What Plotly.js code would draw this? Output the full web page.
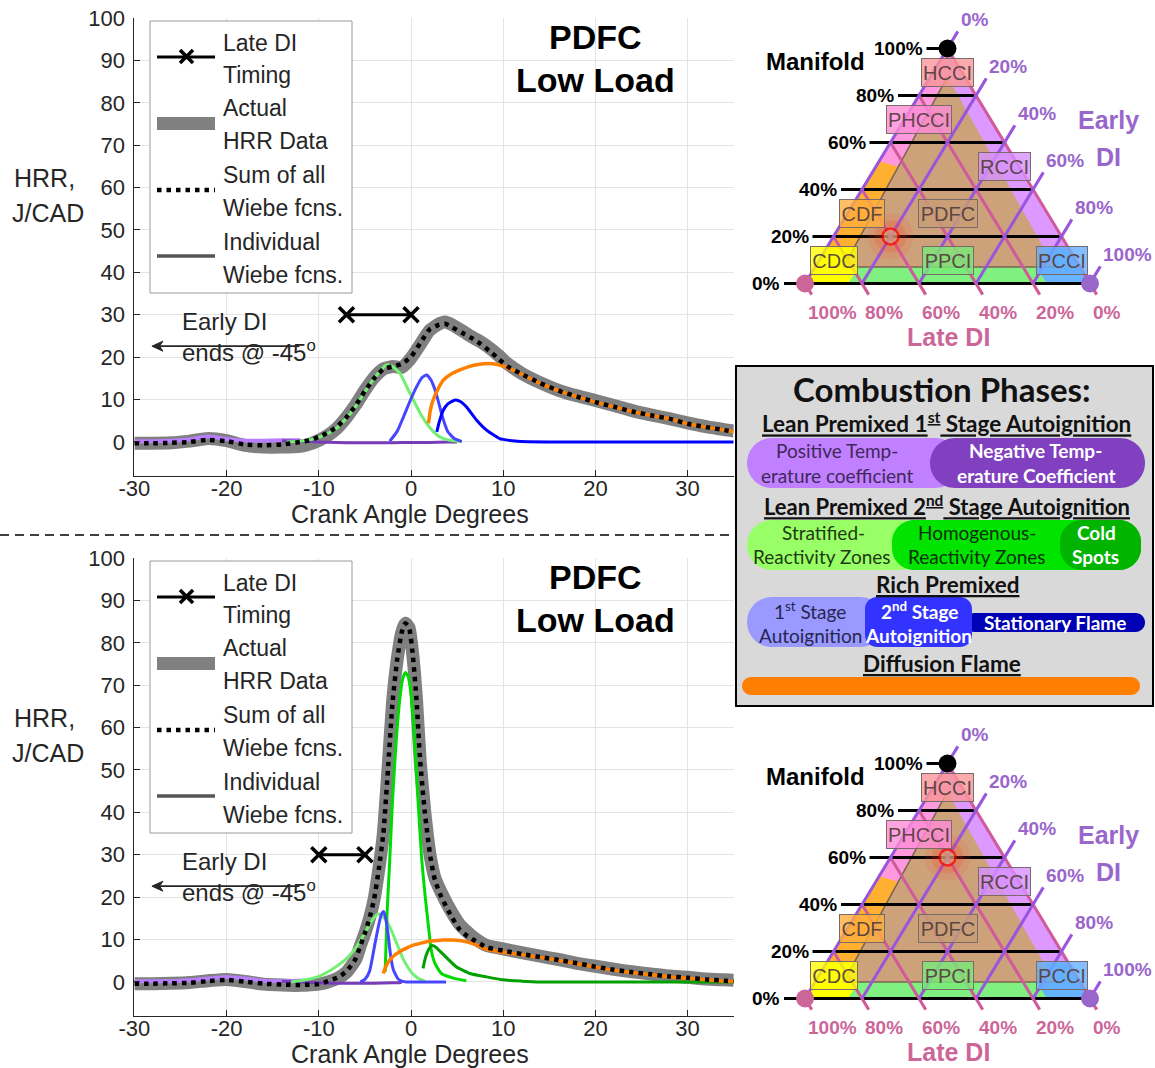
<!DOCTYPE html>
<html><head><meta charset="utf-8">
<script src="https://cdn.plot.ly/plotly-3.0.1.min.js"></script>
<style>html,body{margin:0;padding:0;background:#fff}#chart{width:1155px;height:1068px}</style>
</head><body><div id="chart"></div><script>
// ================= DATA =================
const cadTickVals = [-30,-20,-10,0,10,20,30];
const hrrTickVals = [0,10,20,30,40,50,60,70,80,90,100];

// ---- top panel (PDFC low load, manifold 20%) ----
const topActualCad = [-30,-28,-26,-24,-22,-20,-18,-16,-14,-12,-11,-10,-9,-8,-7,-6,-5,-4,-3,-2,-1,0,1,2,3,3.7,4.5,5.5,6.5,7.5,8.5,9.5,10.5,12,14,16,18,20,22,24,26,28,30,32,34,35];
const topActualHrr = [-0.3,-0.3,-0.2,0.2,0.8,0.3,-0.8,-1.2,-1.2,-1.0,-0.5,0.4,1.6,3.3,5.8,8.8,12.2,15.2,17.2,17.8,17.6,19.8,23,26.3,27.8,28.3,27.6,26.3,24.9,23.7,22.2,20.4,18.4,16.2,14.0,12.2,10.9,9.8,8.6,7.4,6.4,5.5,4.5,3.6,2.9,2.6];
const topSumCad = topActualCad;
const topSumHrr = [-0.3,-0.3,-0.2,0.0,0.5,0.2,-0.6,-0.8,-0.6,0.0,0.4,1.2,2.2,3.6,5.8,8.6,12.0,15.0,17.2,17.8,18.4,20.1,23.3,26.5,27.6,27.9,27.0,25.8,24.6,23.2,21.5,19.6,17.8,16.0,13.9,12.1,10.7,9.4,8.3,7.2,6.3,5.5,4.3,3.5,2.8,2.4];
const topPtcCad = [-30,-28,-26,-24,-22,-20,-18,-16,-14,-12];
const topPtcHrr = [0.2,0.2,0.3,0.6,1.3,0.7,0.3,0.3,0.4,0.4];
const topNtcCad = [-14,-12,-10,-8,-6,-4,-2,0,2,4,5];
const topNtcHrr = [0.3,0.2,0.0,-0.1,-0.2,-0.2,-0.2,-0.1,-0.1,0,0];
const topStratCad = [-13.5,-12,-11,-10,-9,-8,-7,-6,-5,-4,-3,-2.6,-2,-1.2,-0.5,0.25,1,1.7,2.4,3.1,4,4.6,5.5];
const topStratHrr = [0,0.2,0.5,1.1,2.0,3.4,5.6,8.4,11.8,15.0,17.6,18.2,17.8,16.2,13.2,9.9,6.8,4.4,2.5,1.2,0.5,0.3,0.1];
const topRich1Cad = [-2.3,-1.5,-0.8,0,0.6,1.2,1.7,2.2,2.6,3.0,3.3,3.7,4.0,4.7,5.5];
const topRich1Hrr = [0.2,2.5,6.0,10.2,13.0,15.2,15.8,14.5,12.3,9.3,6.8,4.0,2.4,0.8,0.1];
const topRich2Cad = [2.8,3.1,3.5,4,4.8,5.4,6,7.1,8.2,9.6,11,12,15,20,25,30,35];
const topRich2Hrr = [2.4,5.0,7.5,9.0,9.9,9.5,8.3,5.2,2.8,0.8,0.3,0.1,0,0,0,0,0];
const topDiffCad = [1.9,2.1,2.4,3,3.5,4.4,5.3,6.2,7.1,8.6,10,11,12,14,16,18,20,22,24,26,28,30,32,34,35];
const topDiffHrr = [4.4,7.5,9.9,12.8,14.6,16.1,17.0,17.7,18.2,18.5,17.9,17.0,16.0,13.8,12.1,10.7,9.4,8.3,7.2,6.3,5.5,4.3,3.5,2.8,2.4];
const topLateDiCad = [-7, 0];
const topLateDiHrr = [30, 30];

// ---- bottom panel (PDFC low load, manifold 60%) ----
const botActualCad = [-30,-28,-26,-24,-22,-20,-18,-16,-14,-12,-10,-9,-8,-7,-6,-5.5,-5,-4.5,-4,-3.5,-3,-2.5,-2,-1.5,-1,-0.6,-0.2,0.2,0.6,1,1.5,2.1,2.6,3.3,4.4,5.3,6,6.8,8.2,10,12,14,16,18,20,22,24,26,28,30,32,34,35];
const botActualHrr = [-0.4,-0.4,-0.3,-0.1,0.3,0.6,0.1,-0.5,-0.7,-0.8,-0.5,0.0,0.8,2.3,5.3,8.5,11.5,15,19.5,26.5,35,50,66,76,82.5,84.6,83.5,77,66.5,52,40,29.5,24.5,21,16.5,13.5,12,10.5,8.6,7.8,6.9,6.1,5.3,4.4,3.7,3.0,2.4,1.9,1.4,1.1,0.7,0.5,0.4];
const botSumCad = botActualCad;
const botSumHrr = [-0.4,-0.4,-0.3,-0.2,0.2,0.5,0.1,-0.4,-0.6,-0.7,-0.5,0.2,1.0,2.5,5.5,8.5,11.5,15,19.5,26.5,35,50,66,76,82.5,84.6,83.5,77,66.5,52,40,29.5,24,20,15.4,12.3,11,9.9,8.2,7.4,6.6,5.9,5.2,4.4,3.6,2.9,2.3,1.8,1.3,1.0,0.6,0.3,0.2];
const botPtcCad = [-30,-28,-26,-24,-22,-20,-18,-16,-14,-12];
const botPtcHrr = [0.2,0.2,0.2,0.4,0.8,1.2,0.8,0.3,0.2,0.3];
const botNtcCad = [-14,-12,-10,-8,-6,-4,-2,-1];
const botNtcHrr = [0.2,0.0,-0.2,-0.3,-0.3,-0.3,-0.2,-0.1];
const botStratCad = [-13,-12,-11,-10,-9,-8,-7,-6,-5.5,-5,-4.5,-4,-3.6,-3.2,-2.8,-2.3,-1.55,-0.8,0,0.5,1,1.5];
const botStratHrr = [0,0.3,0.7,1.3,2.4,3.8,5.5,8.0,9.8,11.5,13.5,15.2,16.0,15.8,14.8,13.0,9.1,5.2,2.4,1.3,0.6,0.2];
const botRich1Cad = [-5.5,-5,-4.5,-3.9,-3.5,-3.2,-2.95,-2.7,-2.5,-2.2,-1.9,-1.4,-1,-0.5,0,1,2,3,3.8];
const botRich1Hrr = [0,0.6,2.5,9.1,13.5,16.0,16.6,14.5,11.5,6.0,2.8,0.7,0.2,0,0,0,0,0,0];
const botHomoCad = [-2.8,-2.6,-2.3,-2,-1.6,-1.2,-0.9,-0.6,-0.3,0,0.3,0.7,1.16,1.5,1.9,2.2,2.6,3.3,4.6,6];
const botHomoHrr = [2.4,16,29,43,57,67,71.5,73,72,68,60,45,29,21,13,7.5,4.4,2.0,0.9,0.3];
const botColdCad = [1.3,1.6,2,2.3,2.7,3.5,4.9,6.4,8.2,10,12,14,20,25,30,35];
const botColdHrr = [3.2,6.0,8.0,8.6,8.2,6.5,3.6,2.0,1.2,0.5,0.2,0,0,0,0,0];
const botDiffCad = [-3,-2.7,-2.3,-1.8,-1.2,-0.5,0.25,1,1.7,2.5,3.5,4.4,5.3,6.8,8.2,10,12,14,16,18,20,22,24,26,28,30,32,34,35];
const botDiffHrr = [2.0,3.8,5.2,6.3,7.2,8.0,8.7,9.1,9.5,9.7,9.9,9.9,9.8,9.0,7.7,7.0,6.4,5.8,5.1,4.3,3.5,2.8,2.2,1.7,1.2,0.9,0.5,0.2,0.1];
const botLateDiCad = [-10, -5];
const botLateDiHrr = [30, 30];

// ---- early DI note (CAD of arrow tip/tail, HRR level) ----
const earlyDiArrowCad = [-28.1, -12.1];
const earlyDiArrowHrr = 22.6;

// ---- ternary diagrams (percent) ----
const triLevels = [0,20,40,60,80,100];
const modeNames = ['HCCI','PHCCI','RCCI','CDF','PDFC','CDC','PPCI','PCCI'];
const modeManifold = [90,70,50,30,30,10,10,10];
const modeEarlyDi  = [5,5,45,5,35,5,45,85];
const topOpManifold = 20, topOpEarlyDi = 20, topOpLateDi = 60;
const botOpManifold = 60, botOpEarlyDi = 20, botOpLateDi = 20;
// regime regions: manifold %, early DI % at each corner
const regionNames = ['outer','leftBand','orange','green','yellow','blue','tan'];
const regionManifold = [[0,0,100],[0,100,88,7,0],[0,52,49,7,0],[0,0,7,7],[0,0,7,15,15],[0,0,7,15,15],[88,7,7]];
const regionEarlyDi  = [[0,100,0],[0,0,6,10,14],[0,0,10,10,14],[12,88,86.5,6.5],[0,15,15.5,12.5,0],[100,85,77.5,72.5,85],[6,10,84]];

// ================= STYLE / GEOMETRY =================
const FW = 1155, FH = 1068;
const px = x => x / FW, py = y => 1 - y / FH;
const FONT = '"Liberation Sans", Arial, sans-serif';
const BFONT = 'Lato, "Open Sans", sans-serif';
const INK = '#262626';
const PINK = '#cc6699', PURP = '#9966cc';
const TRI_W = 285, TRI_H = 235;

const traces = [];
const shapes = [];
const annotations = [];

function ln(x, y, color, width, xa, ya, extra) {
  traces.push(Object.assign({type:'scatter', mode:'lines', x, y, xaxis:xa, yaxis:ya,
    line:{color, width, shape:'spline', smoothing:0.5}, hoverinfo:'skip'}, extra || {}));
}

function hrrPanel(xa, ya, d) {
  ln(d.actX, d.actY, 'rgb(128,128,128)', 13, xa, ya);
  ln(d.ptcX, d.ptcY, 'rgb(185,125,255)', 4, xa, ya);
  ln(d.ntcX, d.ntcY, 'rgb(120,60,185)', 3, xa, ya);
  ln(d.strX, d.strY, 'rgb(115,240,115)', 3, xa, ya);
  if (d.homX) ln(d.homX, d.homY, 'rgb(0,220,0)', 3, xa, ya);
  if (d.colX) ln(d.colX, d.colY, 'rgb(0,160,0)', 3, xa, ya);
  ln(d.r1X, d.r1Y, 'rgb(70,70,255)', 3, xa, ya);
  if (d.r2X) ln(d.r2X, d.r2Y, 'rgb(0,0,255)', 3, xa, ya);
  ln(d.difX, d.difY, 'rgb(255,128,0)', 3.5, xa, ya);
  ln(d.sumX, d.sumY, '#000', 4.5, xa, ya);
  traces[traces.length-1].line.dash = '4.5px,5px';
  traces.push({type:'scatter', mode:'lines+markers', x:d.ldX, y:d.ldY, xaxis:xa, yaxis:ya,
    line:{color:'#000', width:3}, marker:{symbol:'x-thin', size:15, line:{width:3.5, color:'#000'}}, hoverinfo:'skip'});
}

hrrPanel('x','y',{actX:topActualCad,actY:topActualHrr,sumX:topSumCad,sumY:topSumHrr,ptcX:topPtcCad,ptcY:topPtcHrr,
  ntcX:topNtcCad,ntcY:topNtcHrr,strX:topStratCad,strY:topStratHrr,r1X:topRich1Cad,r1Y:topRich1Hrr,
  r2X:topRich2Cad,r2Y:topRich2Hrr,difX:topDiffCad,difY:topDiffHrr,ldX:topLateDiCad,ldY:topLateDiHrr});
hrrPanel('x2','y2',{actX:botActualCad,actY:botActualHrr,sumX:botSumCad,sumY:botSumHrr,ptcX:botPtcCad,ptcY:botPtcHrr,
  ntcX:botNtcCad,ntcY:botNtcHrr,strX:botStratCad,strY:botStratHrr,homX:botHomoCad,homY:botHomoHrr,
  colX:botColdCad,colY:botColdHrr,r1X:botRich1Cad,r1Y:botRich1Hrr,difX:botDiffCad,difY:botDiffHrr,
  ldX:botLateDiCad,ldY:botLateDiHrr});

function ann(o) { annotations.push(Object.assign({showarrow:false, xref:'paper', yref:'paper', yanchor:'middle'}, o)); }
function txt(xp, yp, text, size, color, xanchor, family) {
  ann({x:px(xp), y:py(yp), text, xanchor:xanchor||'center', font:{family:family||FONT, size, color:color||INK}});
}

// panel decorations (legend box, titles, y label, early DI note)
function panelDecor(dy, xa, ya) {
  shapes.push({type:'rect', xref:'paper', yref:'paper', x0:px(150), x1:px(352), y0:py(21+dy), y1:py(293+dy),
    fillcolor:'#fff', line:{color:'#9a9a9a', width:1}});
  shapes.push({type:'line', xref:'paper', yref:'paper', x0:px(157), x1:px(215), y0:py(57+dy), y1:py(57+dy), line:{color:'#000', width:3}});
  shapes.push({type:'line', xref:'paper', yref:'paper', x0:px(180), x1:px(193), y0:py(50+dy), y1:py(63+dy), line:{color:'#000', width:3.5}});
  shapes.push({type:'line', xref:'paper', yref:'paper', x0:px(180), x1:px(193), y0:py(63+dy), y1:py(50+dy), line:{color:'#000', width:3.5}});
  shapes.push({type:'rect', xref:'paper', yref:'paper', x0:px(157), x1:px(215), y0:py(117+dy), y1:py(130+dy), fillcolor:'#808080', line:{width:0}});
  shapes.push({type:'line', xref:'paper', yref:'paper', x0:px(157), x1:px(215), y0:py(190+dy), y1:py(190+dy), line:{color:'#000', width:4.5, dash:'4.5px,5px'}});
  shapes.push({type:'line', xref:'paper', yref:'paper', x0:px(157), x1:px(215), y0:py(256+dy), y1:py(256+dy), line:{color:'#555', width:3.5}});
  const legLines = ['Late DI','Timing','Actual','HRR Data','Sum of all','Wiebe fcns.','Individual','Wiebe fcns.'];
  const legY = [43,75,108,141,175,208,242,275];
  legLines.forEach((t,i)=>txt(221, legY[i]+dy, t, 23, INK, 'left'));
  txt(595, 37+dy, '<b>PDFC</b>', 34, '#000');
  txt(595, 80+dy, '<b>Low Load</b>', 34, '#000');
  txt(12, 178+dy, 'HRR,', 25, INK, 'left');
  txt(10, 213+dy, 'J/CAD', 25, INK, 'left');
  txt(410, 514+dy, 'Crank Angle Degrees', 25, INK, 'center');
  annotations.push({xref:xa, yref:ya, x:-25.1, y:28.3, text:'Early DI', showarrow:false, xanchor:'left', yanchor:'middle', font:{family:FONT, size:24, color:INK}});
  annotations.push({xref:xa, yref:ya, x:-25.1, y:21.4, text:'ends @ -45<sup>o</sup>', showarrow:false, xanchor:'left', yanchor:'middle', font:{family:FONT, size:24, color:INK}});
  // arrow pointing toward earlier crank angles
  const [tip, tail] = earlyDiArrowCad, yA = earlyDiArrowHrr;
  const hl = 11/9.22, hw = 5/4.24;
  shapes.push({type:'line', xref:xa, yref:ya, x0:tip + 0.5, x1:tail, y0:yA, y1:yA, line:{color:INK, width:1.6}});
  shapes.push({type:'path', xref:xa, yref:ya, path:`M${tip},${yA} L${tip+hl},${yA+hw} L${tip+hl*0.7},${yA} L${tip+hl},${yA-hw} Z`,
    fillcolor:INK, line:{color:INK, width:1}});
}
panelDecor(0, 'x', 'y');
panelDecor(540, 'x2', 'y2');

// dashed separator
shapes.push({type:'line', xref:'paper', yref:'paper', x0:0, x1:px(735), y0:py(535), y1:py(535), line:{color:'#000', width:1.5, dash:'9px,6px'}});

// ================= TERNARY DIAGRAMS =================
const regionColor = {outer:'#dd99ff', leftBand:'#ff99dd', orange:'#ffb030', green:'#80f080', yellow:'#ffff00', blue:'#66b3ff', tan:'#cda27a'};
const modeFill = ['rgba(250,150,150,0.8)','rgba(255,140,215,0.8)','rgba(215,145,255,0.8)','rgba(255,175,60,0.8)','rgba(200,158,118,0.8)','rgba(255,255,0,0.8)','rgba(120,235,120,0.8)','rgba(100,175,255,0.8)'];
const modeBoxW = [53,66,53,46,60,48,52,52];

function addTriangle(xa, ya, opM, opE) {
  const U = (m,e) => (e + 0.5*m)/100, V = m => m/100;
  const du = d => d/TRI_W, dv = d => -d/TRI_H;
  const A = (o) => annotations.push(Object.assign({xref:xa, yref:ya, showarrow:false, yanchor:'middle'}, o));
  regionNames.forEach((nm,i) => {
    const ms = regionManifold[i], es = regionEarlyDi[i];
    traces.push({type:'scatter', mode:'lines', x:ms.map((m,j)=>U(m,es[j])), y:ms.map(V), fill:'toself',
      fillcolor:regionColor[nm], line:{width:nm==='tan'?1.5:0, color:nm==='tan'?'#7a6450':regionColor[nm]},
      xaxis:xa, yaxis:ya, hoverinfo:'skip'});
  });
  const bold = (size,color) => ({family:FONT, size, color, weight:'bold'});
  // manifold (black, horizontal)
  triLevels.forEach(lv => {
    const m = lv/100, x0 = 0.5*m - du(21), x1 = 1 - 0.5*m;
    traces.push({type:'scatter', mode:'lines', x:[x0,x1], y:[m,m], xaxis:xa, yaxis:ya, line:{color:'#000', width:3}, hoverinfo:'skip'});
    A({x:x0 - du(2), y:m, text:'<b>'+lv+'%</b>', xanchor:'right', font:bold(19,'#000')});
  });
  // late DI (pink, parallel to right edge)
  triLevels.forEach(lv => {
    const l = lv/100, bx = 1 - l, ex = 0.5*(1-l), ey = 1 - l;
    traces.push({type:'scatter', mode:'lines', x:[ex, bx, bx + du(0.5186*13)], y:[ey, 0, dv(0.8552*13)], xaxis:xa, yaxis:ya,
      line:{color:'#d05a9a', width:3}, hoverinfo:'skip'});
    A({x:bx + du(1), y:dv(28.5), text:'<b>'+lv+'%</b>', xanchor:'left', font:bold(19,PINK)});
  });
  // early DI (purple, parallel to left edge)
  triLevels.forEach(lv => {
    const e = lv/100, bx = e, ex = 0.5 + 0.5*e, ey = 1 - e;
    const endx = ex + du(0.5186*20), endy = ey + dv(-0.8552*20);
    traces.push({type:'scatter', mode:'lines', x:[bx, ex, endx], y:[0, ey, endy], xaxis:xa, yaxis:ya,
      line:{color:'#9955dd', width:3}, hoverinfo:'skip'});
    A({x:endx + du(1), y:endy + dv(-12), text:'<b>'+lv+'%</b>', xanchor:'left', font:bold(19,PURP)});
  });
  // regime label boxes
  modeNames.forEach((nm,i) => {
    A({x:U(modeManifold[i], modeEarlyDi[i]), y:V(modeManifold[i]), text:nm, xanchor:'center',
      width:modeBoxW[i]-2, height:27, borderpad:0, bgcolor:modeFill[i], bordercolor:'#7a6a6a', borderwidth:1,
      font:{family:FONT, size:20, color:'rgba(85,65,65,0.95)'}});
  });
  // corner markers
  traces.push({type:'scatter', mode:'markers', x:[U(100,0), U(0,0), U(0,100)], y:[V(100), V(0), V(0)], xaxis:xa, yaxis:ya,
    marker:{size:18, color:['#000', PINK, PURP]}, hoverinfo:'skip'});
  // operating point with glow
  const ox = U(opM, opE), oy = V(opM);
  traces.push({type:'scatter', mode:'markers', x:[ox,ox,ox], y:[oy,oy,oy], xaxis:xa, yaxis:ya,
    marker:{size:[46,32,16], color:['rgba(255,70,50,0.16)','rgba(255,50,30,0.25)','#d2a57c'],
    line:{width:[0,0,2.5], color:'#ff0000'}}, hoverinfo:'skip'});
  A({x:U(0,0) + du(10), y:V(0) + dv(-222), text:'<b>Manifold</b>', xanchor:'center', font:bold(24,'#000')});
  A({x:1 + du(18), y:dv(-163.5), text:'<b>Early</b>', xanchor:'center', font:bold(25,PURP)});
  A({x:1 + du(18), y:dv(-127), text:'<b>DI</b>', xanchor:'center', font:bold(25,PURP)});
  A({x:0.5 + du(1), y:dv(53), text:'<b>Late DI</b>', xanchor:'center', font:bold(25,PINK)});
}
addTriangle('x3','y3', topOpManifold, topOpEarlyDi);
addTriangle('x4','y4', botOpManifold, botOpEarlyDi);

// ================= COMBUSTION PHASES BOX =================
function pill(x0,y0,x1,y1,r,color) {
  const k = 0.5523*r;
  const P = (x,y) => (x/FW).toFixed(5)+','+(1-y/FH).toFixed(5);
  const path = 'M'+P(x0+r,y0)+' L'+P(x1-r,y0)+' C'+P(x1-r+k,y0)+' '+P(x1,y0+r-k)+' '+P(x1,y0+r)+
    ' L'+P(x1,y1-r)+' C'+P(x1,y1-r+k)+' '+P(x1-r+k,y1)+' '+P(x1-r,y1)+
    ' L'+P(x0+r,y1)+' C'+P(x0+r-k,y1)+' '+P(x0,y1-r+k)+' '+P(x0,y1-r)+
    ' L'+P(x0,y0+r)+' C'+P(x0,y0+r-k)+' '+P(x0+r-k,y0)+' '+P(x0+r,y0)+' Z';
  shapes.push({type:'path', xref:'paper', yref:'paper', path, fillcolor:color, line:{width:0}});
}
shapes.push({type:'rect', xref:'paper', yref:'paper', x0:px(736), x1:px(1153), y0:py(366), y1:py(706), fillcolor:'#d9d9d9', line:{color:'#000', width:2}});
pill(747,438,960,488,25,'#c080ff');
pill(930,438,1145,488,25,'#8040c0');
pill(747,520,925,570,25,'#99ff66');
pill(892,520,1141,570,22,'#00e400');
pill(1060,520,1141,570,22,'#00b400');
pill(747,597,885,647,25,'#9999ff');
pill(965,613,1145,632,9.5,'#0000b4');
pill(865,597,972,647,12,'#3333ff');
pill(742,677,1140,695,9,'#ff8000');

const bt = (x,y,t,s,c) => txt(x,y,t,s,c,'center',BFONT);
bt(942, 389, '<b>Combustion Phases:</b>', 33, '#111');
bt(946, 422, '<b><u>Lean Premixed 1<sup>st</sup> Stage Autoignition</u></b>', 22.5, '#111');
bt(837, 450, 'Positive Temp-', 19, '#40285a');
bt(837, 475, 'erature coefficient', 19, '#40285a');
bt(1035, 450, '<b>Negative Temp-</b>', 19, '#fff');
bt(1036, 475, '<b>erature Coefficient</b>', 19, '#fff');
bt(947, 505.5, '<b><u>Lean Premixed 2<sup>nd</sup> Stage Autoignition</u></b>', 22, '#111');
bt(823, 532.5, 'Stratified-', 19, '#1f3a12');
bt(822, 556, 'Reactivity Zones', 19, '#1f3a12');
bt(977, 532.5, 'Homogenous-', 19, '#0a300a');
bt(977, 556, 'Reactivity Zones', 19, '#0a300a');
bt(1096, 532.5, '<b>Cold</b>', 19, '#fff');
bt(1095, 556, '<b>Spots</b>', 19, '#fff');
bt(947, 584, '<b><u>Rich Premixed</u></b>', 22.5, '#111');
bt(810, 610, '1<sup>st</sup> Stage', 19, '#262650');
bt(810, 635, 'Autoignition', 19, '#262650');
bt(919, 610, '<b>2<sup>nd</sup> Stage</b>', 19, '#fff');
bt(918, 635, '<b>Autoignition</b>', 19, '#fff');
bt(1055, 622, '<b>Stationary Flame</b>', 19, '#fff');
bt(942, 663, '<b><u>Diffusion Flame</u></b>', 22.5, '#111');

// ================= LAYOUT =================
function xAx(domain, anchor) {
  return {domain, anchor, range:[-30,35], tickmode:'array', tickvals:cadTickVals, ticktext:cadTickVals.map(v=>String(v)),
    showgrid:true, gridcolor:'#e4e4e4', gridwidth:1, zeroline:false, showline:true, linecolor:INK, linewidth:1,
    ticks:'inside', ticklen:6, tickcolor:INK, tickfont:{family:FONT, size:22, color:INK}, fixedrange:true, ticklabelstandoff:-7};
}
function yAx(domain, anchor) {
  return {domain, anchor, range:[-8,100], tickmode:'array', tickvals:hrrTickVals, ticktext:hrrTickVals.map(v=>String(v)),
    showgrid:true, gridcolor:'#e4e4e4', gridwidth:1, zeroline:false, showline:true, linecolor:INK, linewidth:1,
    ticks:'inside', ticklen:6, tickcolor:INK, tickfont:{family:FONT, size:22, color:INK}, fixedrange:true, ticklabelstandoff:4};
}
const hx = [px(134.4), px(733.7)];
const layout = {
  width:FW, height:FH, margin:{l:0,r:0,t:0,b:0}, paper_bgcolor:'#fff', plot_bgcolor:'rgba(0,0,0,0)', showlegend:false,
  font:{family:FONT, color:INK},
  xaxis: xAx(hx, 'y'),
  yaxis: yAx([py(475.9), py(18)], 'x'),
  xaxis2: xAx(hx, 'y2'),
  yaxis2: yAx([py(1015.9), py(558)], 'x2'),
  xaxis3: {domain:[px(740),1], anchor:'y3', range:[-65/TRI_W, 350/TRI_W], visible:false, fixedrange:true},
  yaxis3: {domain:[py(360),1], anchor:'x3', range:[(283.5-360)/TRI_H, 283.5/TRI_H], visible:false, fixedrange:true},
  xaxis4: {domain:[px(740),1], anchor:'y4', range:[-65/TRI_W, 350/TRI_W], visible:false, fixedrange:true},
  yaxis4: {domain:[0,py(715)], anchor:'x4', range:[(998.5-1068)/TRI_H, (998.5-715)/TRI_H], visible:false, fixedrange:true},
  shapes, annotations
};
Plotly.newPlot('chart', traces, layout, {displayModeBar:false, staticPlot:true});
</script></body></html>
